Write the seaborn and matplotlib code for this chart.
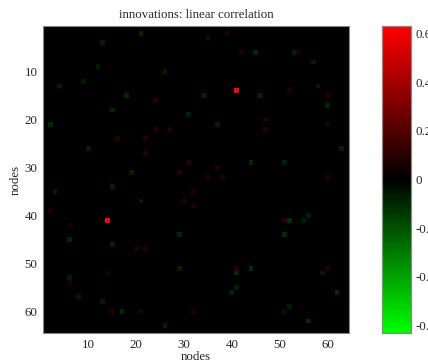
"""Innovations correlation map, node x node, green-black-red scale."""
import numpy as np
import matplotlib
matplotlib.use("Agg")
import matplotlib.pyplot as plt
from matplotlib.colors import LinearSegmentedColormap
import seaborn as sns

N_NODES = 64

# visible cells (1-based row, col); matrix is symmetric
cell_rows = [14, 2, 4, 15, 21, 10, 19, 12, 13, 16, 22, 22, 29,
             15, 15, 6, 6, 8, 6, 6, 15, 17, 22, 21, 26, 30, 29, 32, 14, 3,
             45, 42, 34, 44, 47, 47, 37, 37, 53, 57, 60, 60, 60, 58, 51, 63, 39,
             41, 41, 44, 51, 56, 60, 59, 56, 32, 32, 41]
cell_cols = [41, 21, 13, 18, 2, 26, 31, 9, 4, 24, 27, 24, 31,
             34, 46, 45, 53, 57, 42, 54, 60, 60, 47, 60, 63, 37, 44, 60, 52, 35,
             6, 6, 15, 29, 20, 22, 30, 21, 6, 8, 17, 15, 21, 13, 29, 26, 2,
             51, 52, 51, 60, 62, 51, 52, 40, 38, 35, 55]
cell_vals = [0.62, -0.11, -0.09, -0.10, -0.10, -0.08, -0.08, -0.07, -0.08, 0.09, 0.08, 0.09, 0.09,
             -0.09, -0.09, -0.08, -0.08, -0.08, 0.08, 0.07, 0.09, -0.08, 0.07, 0.08, -0.08, 0.07, -0.07, 0.07, 0.07, -0.07,
             -0.10, 0.08, -0.09, -0.10, 0.08, 0.09, 0.08, -0.08, -0.08, -0.08, -0.10, 0.08, 0.07, -0.07, -0.08, -0.08, 0.07,
             0.11, -0.11, -0.11, 0.09, -0.11, 0.08, -0.07, -0.08, 0.07, 0.07, -0.07]

tick_nodes = [10, 20, 30, 40, 50, 60]
cbar_ticks = [0.6, 0.4, 0.2, 0.0, -0.2, -0.4, -0.6]
cbar_labels = ["0.6", "0.4", "0.2", "0", "-0.2", "-0.4", "-0.6"]

corr = np.zeros((N_NODES, N_NODES))
for r, c, v in zip(cell_rows, cell_cols, cell_vals):
    corr[r - 1, c - 1] = v
    corr[c - 1, r - 1] = v

sns.set_style("white")
plt.rcParams["font.family"] = ["Liberation Serif", "DejaVu Serif"]
plt.rcParams["axes.unicode_minus"] = False

cmap = LinearSegmentedColormap.from_list("gkr", [(0, 1, 0), (0, 0, 0), (1, 0, 0)])

fig = plt.figure(figsize=(4.28, 3.63), dpi=100)
ax = fig.add_axes([43 / 428, 30 / 363, 306 / 428, 307 / 363])
cax = fig.add_axes([382 / 428, 30 / 363, 29 / 428, 307 / 363])

sns.heatmap(corr, ax=ax, cmap=cmap, vmin=-0.63, vmax=0.63, cbar_ax=cax,
            xticklabels=False, yticklabels=False, square=False)

ax.set_xticks([t - 0.5 for t in tick_nodes])
ax.set_xticklabels([str(t) for t in tick_nodes], rotation=0)
ax.set_yticks([t - 0.5 for t in tick_nodes])
ax.set_yticklabels([str(t) for t in tick_nodes], rotation=0)
ax.tick_params(direction="in", length=3, labelsize=9.3, color="#444444", pad=4)
for s in ax.spines.values():
    s.set_visible(True)
    s.set_color("#888888")
    s.set_linewidth(0.8)

ax.set_title("innovations: linear correlation", fontsize=9.3, pad=6)
ax.set_xlabel("nodes", fontsize=9.3, labelpad=0)
ax.set_ylabel("nodes", fontsize=9.3, labelpad=2)

cax.set_yticks(cbar_ticks)
cax.set_yticklabels(cbar_labels)
cax.tick_params(direction="in", length=3, labelsize=9.3, color="#888888", pad=3)
for s in cax.spines.values():
    s.set_visible(True)
    s.set_color("#888888")
    s.set_linewidth(0.8)

fig.savefig("out.png", dpi=100)
